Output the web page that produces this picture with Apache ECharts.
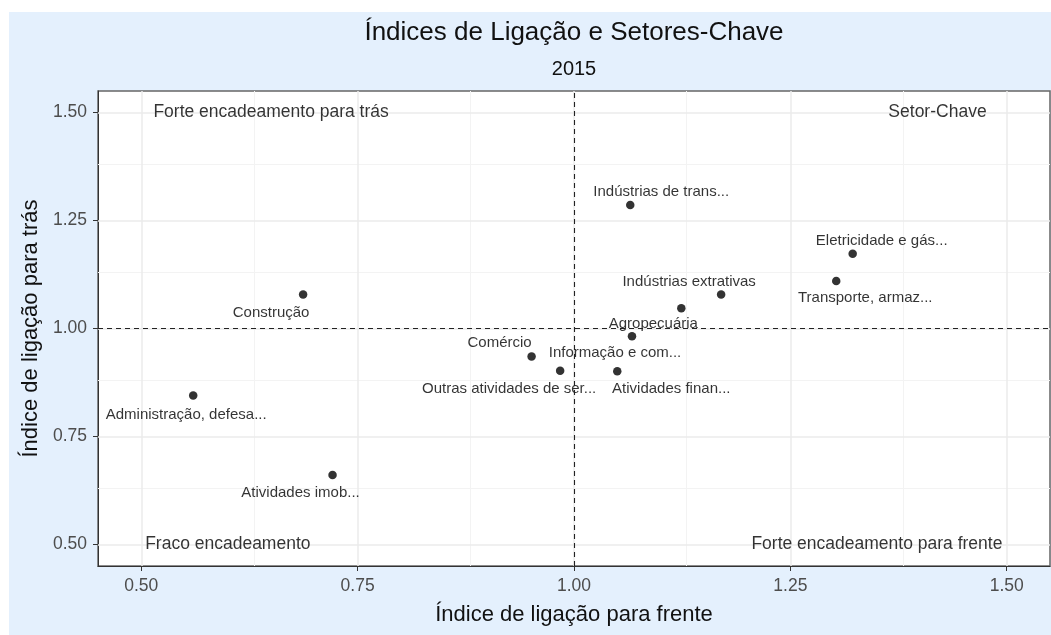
<!DOCTYPE html>
<html lang="pt-BR">
<head>
<meta charset="UTF-8">
<title>Índices de Ligação e Setores-Chave</title>
<script src="https://cdn.jsdelivr.net/npm/echarts@6/dist/echarts.min.js"></script>
<style>
  html, body { margin: 0; padding: 0; background: #fff; }
  #main { position: absolute; left: 9px; top: 12px; width: 1042px; height: 623px; }
</style>
</head>
<body>
<div id="main"></div>
<script>
// setores (rótulos abreviados como no gráfico)
var setores = ['Indústrias de trans...', 'Eletricidade e gás...', 'Transporte, armaz...',
  'Indústrias extrativas', 'Agropecuária', 'Informação e com...', 'Atividades finan...',
  'Comércio', 'Outras atividades de ser...', 'Construção', 'Administração, defesa...',
  'Atividades imob...'];
// índice de ligação para frente (eixo x)
var ligFrente = [1.065, 1.322, 1.303, 1.170, 1.124, 1.067, 1.050, 0.951, 0.984, 0.687, 0.560, 0.721];
// índice de ligação para trás (eixo y)
var ligTras = [1.286, 1.173, 1.110, 1.079, 1.047, 0.982, 0.901, 0.935, 0.902, 1.079, 0.845, 0.661];

var xTicks = [0.5, 0.75, 1.0, 1.25, 1.5];
var yTicks = [0.5, 0.75, 1.0, 1.25, 1.5];
var xMinor = [0.625, 0.875, 1.125, 1.375];
var yMinor = [0.625, 0.875, 1.125, 1.375];

// textos dos quadrantes
var quadTexto = ['Forte encadeamento para trás', 'Setor-Chave', 'Fraco encadeamento', 'Forte encadeamento para frente'];
var quadX = [0.65, 1.42, 0.60, 1.35];
var quadY = [1.5, 1.5, 0.5, 0.5];

// deslocamento dos rótulos (tipo ggrepel), em px
var labelOffsets = [[31, -13], [29, -13], [29, 17], [-32, -13], [-28, 16], [-17, 17],
  [54, 18], [-32, -14], [-51, 18], [-32, 18], [-7, 19], [-32, 18]];

var fonte = '"Liberation Sans", Arial, sans-serif';
var myChart = echarts.init(document.getElementById('main'));

function linhas(vals, eixo, estilo) {
  return {
    z: 1,
    silent: true,
    symbol: 'none',
    label: { show: false },
    lineStyle: estilo,
    data: vals.map(function (v) { var o = {}; o[eixo] = v; return o; })
  };
}

var gradeMaior = { type: 'solid', color: '#ebebeb', width: 1.5 };
var gradeMenor = { type: 'solid', color: '#f3f3f3', width: 1 };

var option = {
  backgroundColor: '#e4f0fd',
  animation: false,
  textStyle: { fontFamily: fonte },
  graphic: [
    { type: 'text', x: 565, y: 21, style: { text: 'Índices de Ligação e Setores-Chave', fontSize: 26, fontFamily: fonte, fill: '#111', align: 'center', verticalAlign: 'middle' } },
    { type: 'text', x: 565, y: 57, style: { text: '2015', fontSize: 20, fontFamily: fonte, fill: '#111', align: 'center', verticalAlign: 'middle' } }
  ],
  grid: {
    left: 89, top: 79, right: 1, bottom: 69,
    show: true, backgroundColor: '#fff', borderColor: '#666', borderWidth: 1.5
  },
  xAxis: {
    type: 'value', min: 0.45, max: 1.55,
    name: 'Índice de ligação para frente', nameLocation: 'middle', nameGap: 38,
    nameTextStyle: { fontSize: 22, color: '#111', fontFamily: fonte },
    axisLine: { show: true, lineStyle: { color: '#333', width: 1 } },
    axisTick: { show: true, customValues: xTicks, length: 5, lineStyle: { color: '#333' } },
    axisLabel: { customValues: xTicks, margin: 11, fontSize: 17.5, color: '#4d4d4d', fontFamily: fonte,
      formatter: function (v) { return v.toFixed(2); } },
    splitLine: { show: false }
  },
  yAxis: {
    type: 'value', min: 0.45, max: 1.55,
    name: 'Índice de ligação para trás', nameLocation: 'middle', nameGap: 54,
    nameTextStyle: { fontSize: 22, color: '#111', fontFamily: fonte },
    axisLine: { show: true, lineStyle: { color: '#333', width: 1 } },
    axisTick: { show: true, customValues: yTicks, length: 5, lineStyle: { color: '#333' } },
    axisLabel: { customValues: yTicks, margin: 11, fontSize: 17.5, color: '#4d4d4d', fontFamily: fonte,
      formatter: function (v) { return v.toFixed(2); } },
    splitLine: { show: false }
  },
  series: [
    { // grade menor
      type: 'scatter', data: [], z: 1, silent: true,
      markLine: linhas(xMinor, 'xAxis', gradeMenor)
    },
    { type: 'scatter', data: [], z: 1, silent: true,
      markLine: linhas(yMinor, 'yAxis', gradeMenor)
    },
    { // grade maior
      type: 'scatter', data: [], z: 1, silent: true,
      markLine: linhas(xTicks, 'xAxis', gradeMaior)
    },
    { type: 'scatter', data: [], z: 1, silent: true,
      markLine: linhas(yTicks, 'yAxis', gradeMaior)
    },
    { // linhas de referência em 1
      type: 'scatter', data: [], z: 2, silent: true,
      markLine: {
        silent: true, symbol: 'none', label: { show: false },
        lineStyle: { type: [5, 4], color: '#222', width: 1.1 },
        data: [{ xAxis: 1 }, { yAxis: 1 }]
      }
    },
    { // textos dos quadrantes
      type: 'scatter', z: 3, silent: true, symbolSize: 0,
      data: quadTexto.map(function (t, i) { return { name: t, value: [quadX[i], quadY[i]] }; }),
      label: { show: true, position: 'inside', formatter: '{b}', fontSize: 17.5, color: '#000', fontFamily: fonte,
        textBorderWidth: 0, textBorderColor: 'transparent' }
    },
    { // setores
      type: 'scatter', z: 4, symbolSize: 8.5,
      itemStyle: { color: '#000' },
      data: setores.map(function (s, i) {
        return { name: s, value: [ligFrente[i], ligTras[i]], label: { offset: labelOffsets[i] } };
      }),
      label: { show: true, position: 'inside', formatter: '{b}', fontSize: 15, color: '#000', fontFamily: fonte,
        textBorderWidth: 0, textBorderColor: 'transparent' }
    }
  ]
};

myChart.setOption(option);
window.addEventListener('resize', function () { myChart.resize(); });
</script>
</body>
</html>
